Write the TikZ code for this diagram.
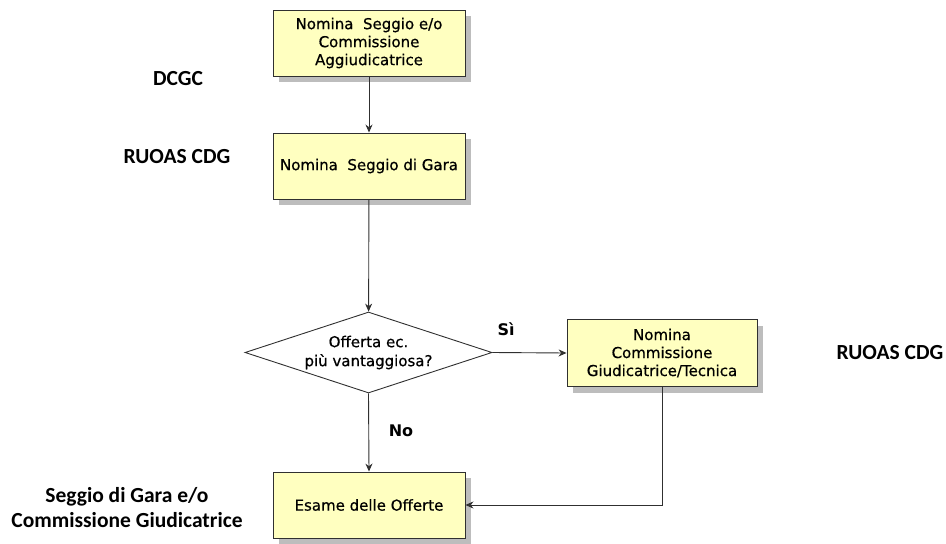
\documentclass[tikz,border=0pt]{standalone}
\usepackage{fontspec}
\setmainfont{DejaVu Sans}
\newfontfamily\boxfont[FakeBold=0.6]{DejaVu Sans}
\newfontfamily\lblfont{Carlito}
\usetikzlibrary{shapes.geometric,arrows.meta,shadows}
\definecolor{boxfill}{HTML}{FFFFC0}
\definecolor{shadowgray}{HTML}{BDBDBD}
\definecolor{edgegray}{HTML}{303030}
\tikzset{
  procbox/.style={draw=edgegray, line width=0.9pt, fill=boxfill, minimum width=192pt, minimum height=66pt, align=center, font=\boxfont\fontsize{15}{18}\selectfont, inner sep=2pt,
    drop shadow={shadow xshift=6pt, shadow yshift=-6pt, fill=shadowgray, opacity=1}},
  decision/.style={draw=edgegray, line width=0.9pt, fill=white, diamond, aspect=3, minimum width=247pt, minimum height=81pt, inner sep=0pt, align=center, font=\boxfont\fontsize{15}{19}\selectfont},
  flow/.style={draw=edgegray, line width=0.9pt, -{Stealth[length=8pt,width=7pt]}},
  rolelbl/.style={font=\lblfont\bfseries\fontsize{21.5}{25}\selectfont, align=center},
  edgelbl/.style={font=\bfseries\fontsize{16}{19}\selectfont}
}
\begin{document}
\begin{tikzpicture}[x=1pt,y=-1pt]
\useasboundingbox (0,0) rectangle (946,544);
\node[procbox] (b1) at (369,43) {Nomina\ \ Seggio e/o\\Commissione\\Aggiudicatrice};
\node[procbox] (b2) at (369,166) {Nomina\ \ Seggio di Gara};
\node[decision] (d) at (368.5,352.5) {Offerta ec.\\più vantaggiosa?};
\node[procbox, minimum width=190pt, minimum height=67pt] (b3) at (662,353) {Nomina\\Commissione\\Giudicatrice/Tecnica};
\node[procbox] (b4) at (369,505) {Esame delle Offerte};
\draw[flow] (b1) -- (b2);
\draw[flow] (b2) -- (d);
\draw[flow] (d.east) -- (b3.west);
\draw[flow] (d.south) -- (b4.north);
\draw[flow] (b3.south) |- (b4.east);
\node[edgelbl] (si) at (506,329) {Sì};
\node[edgelbl] (no) at (401,431) {No};
\node[rolelbl] (l1) at (178,79) {DCGC};
\node[rolelbl] (l2) at (177,157) {RUOAS CDG};
\node[rolelbl] (l3) at (890,353) {RUOAS CDG};
\node[rolelbl] (l4) at (127,508) {Seggio di Gara e/o\\Commissione Giudicatrice};
\end{tikzpicture}
\end{document}
